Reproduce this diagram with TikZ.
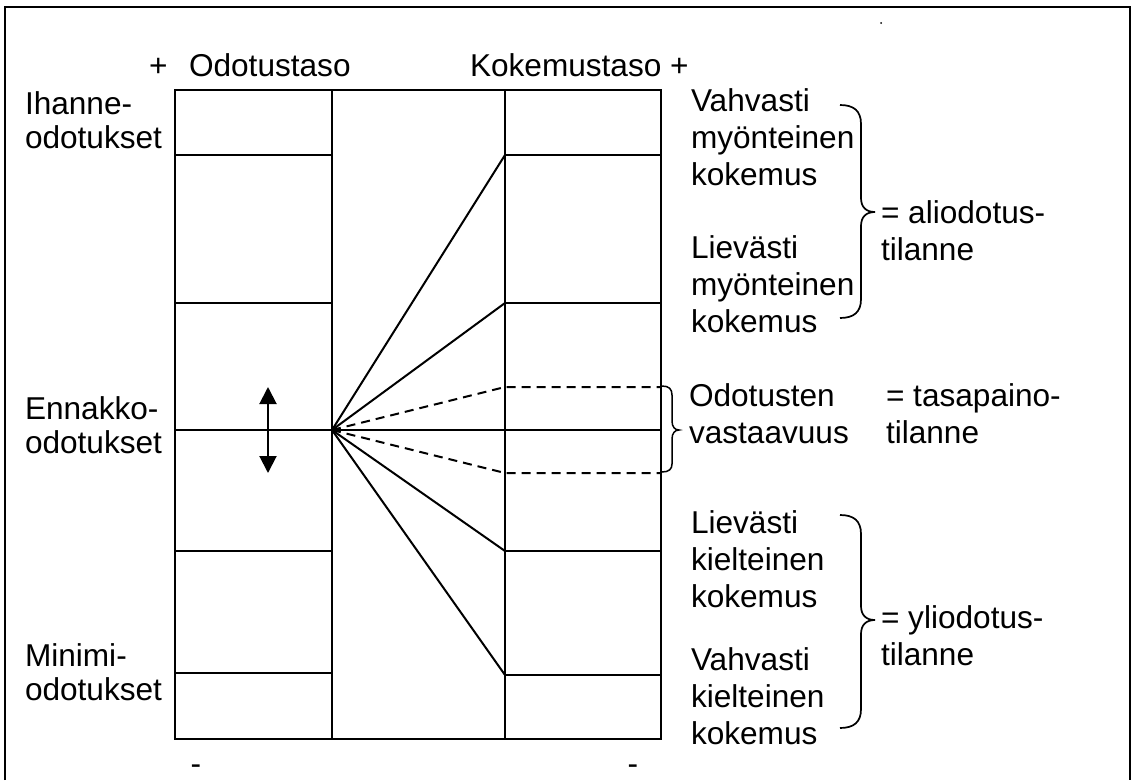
\documentclass[tikz,border=0pt]{standalone}
\usepackage{fontspec}
\setmainfont{Liberation Sans}
\usetikzlibrary{arrows.meta}
\begin{document}
\begin{tikzpicture}[x=1pt,y=-1pt, line width=2pt,
  lbl/.style={anchor=base west, inner sep=0pt, align=left, font=\fontsize{31.6}{37}\selectfont},
  llbl/.style={lbl, font=\fontsize{31.6}{34}\selectfont},
  dsh/.style={dash pattern=on 9pt off 6pt},
  brc/.style={line width=1.7pt},
  arr/.style={{Triangle[length=17pt,width=17pt]}-{Triangle[length=17pt,width=17pt]}}]
\useasboundingbox (0,0) rectangle (1138,780);
\draw[line width=2pt] (5,780) -- (5,7) -- (1130,7) -- (1130,780);
% columns
\draw (175,90) rectangle (332,739);
\draw (332,90) rectangle (505,739);
\draw (505,90) rectangle (661,739);
% left column levels
\foreach \yy in {155,303,551,673} \draw (175,\yy) -- (332,\yy);
% right column levels
\foreach \yy in {155,303,551,675} \draw (505,\yy) -- (661,\yy);
% centre
\coordinate (c) at (332,430);
\coordinate (cl) at (175,430);
\coordinate (cr) at (661,430);
\draw (cl) -- (cr);
\coordinate (r1) at (505,155);
\coordinate (r2) at (505,303);
\coordinate (r3) at (505,551);
\coordinate (r4) at (505,675);
\coordinate (du) at (505,387);
\coordinate (dd) at (505,473);
\coordinate (duE) at (661,387);
\coordinate (ddE) at (661,473);
\draw (c) -- (r1);
\draw (c) -- (r2);
\draw (c) -- (r3);
\draw (c) -- (r4);
\draw[dsh] (c) -- (du) -- (duE);
\draw[dsh] (c) -- (dd) -- (ddE);
% arrow
\coordinate (au) at (268,387);
\coordinate (ad) at (268,473);
\draw[arr] (au) -- (ad);
% braces
\draw[brc] (840,105) .. controls (854,105) and (861,111) .. (861,124) -- (861,198) .. controls (861,207) and (866,212) .. (875,212) .. controls (866,212) and (861,217) .. (861,226) -- (861,299) .. controls (861,312) and (854,318) .. (840,318);
\draw[brc] (840,515) .. controls (854,515) and (861,521) .. (861,534) -- (861,606) .. controls (861,615) and (866,620) .. (875,620) .. controls (866,620) and (861,625) .. (861,634) -- (861,709) .. controls (861,722) and (854,728) .. (840,728);
\draw[line width=1.5pt] (662,386) .. controls (669,386) and (672,389) .. (672,395) -- (672,421) .. controls (672,427) and (675,430) .. (679,430) .. controls (675,430) and (672,433) .. (672,439) -- (672,464) .. controls (672,469) and (669,472) .. (662,472);
% texts (base anchor = baseline of last line)
\node[lbl] (plus1) at (148,76) {+};
\node[lbl] (odo) at (188,76) {Odotustaso};
\node[lbl] (koke) at (469,76) {Kokemustaso +};
\node[llbl] (ihanne) at (24,148) {Ihanne-\\odotukset};
\node[llbl] (ennakko) at (24,453) {Ennakko-\\odotukset};
\node[llbl] (minimi) at (24,700) {Minimi-\\odotukset};
\node[lbl] (vm) at (690,185) {Vahvasti\\myönteinen\\kokemus};
\node[lbl] (lm) at (690,332) {Lievästi\\myönteinen\\kokemus};
\node[lbl] (ov) at (688,443) {Odotusten\\vastaavuus};
\node[lbl] (lk) at (690,607) {Lievästi\\kielteinen\\kokemus};
\node[lbl] (vk) at (690,744) {Vahvasti\\kielteinen\\kokemus};
\node[lbl] (ali) at (880,260) {= aliodotus-\\tilanne};
\node[lbl] (tasa) at (885,443) {= tasapaino-\\tilanne};
\node[lbl] (yli) at (880,665) {= yliodotus-\\tilanne};
\node[lbl, anchor=base] (m1) at (196,774) {-};
\node[lbl, anchor=base] (m2) at (633,774) {-};
\fill (881,23) circle (1pt);
\end{tikzpicture}
\end{document}
